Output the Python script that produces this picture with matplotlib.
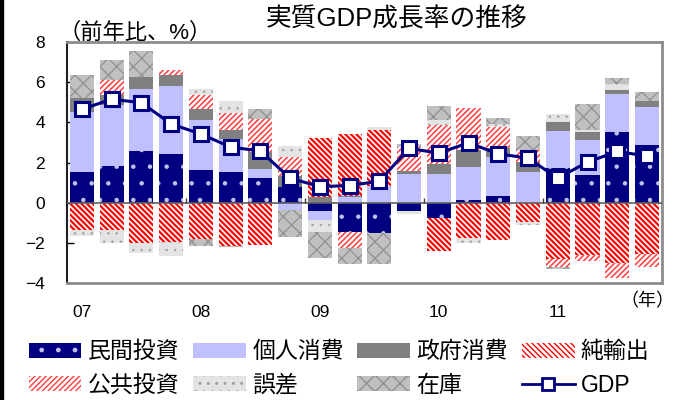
import numpy as np
import matplotlib
matplotlib.use("Agg")
import matplotlib.pyplot as plt
from matplotlib.lines import Line2D

plt.rcParams['font.family'] = ['Liberation Sans', 'Noto Sans CJK JP', 'DejaVu Sans']
plt.rcParams['hatch.linewidth'] = 1.0

# 四半期（2007Q1〜2011Q4）
quarters = ['07Q1', '07Q2', '07Q3', '07Q4', '08Q1', '08Q2', '08Q3', '08Q4',
            '09Q1', '09Q2', '09Q3', '09Q4', '10Q1', '10Q2', '10Q3', '10Q4',
            '11Q1', '11Q2', '11Q3', '11Q4']
year_labels = ['07', '08', '09', '10', '11']

# 寄与度（%ポイント）
private_inv = [1.52, 1.85, 2.55, 2.43, 1.65, 1.52, 1.23, 0.77, -0.43, -1.45,
               -1.53, -0.40, -0.77, 0.13, 0.35, 0.00, 1.72, 1.40, 3.50, 2.85]
consumption = [3.00, 3.00, 3.10, 3.37, 2.45, 1.67, 0.45, -0.35, -0.43, 0.27,
               0.85, 1.43, 1.43, 1.67, 1.92, 1.52, 1.83, 1.70, 1.93, 1.92]
gov_cons = [0.67, 0.50, 0.62, 0.55, 0.55, 0.45, 0.83, 0.58, 0.27, 0.08,
            0.00, 0.13, 0.50, 0.80, 0.45, 0.50, 0.45, 0.42, 0.20, 0.30]
net_exports = [-1.37, -1.35, -2.03, -1.98, -1.82, -2.15, -2.12, 0.00, 2.93, 3.08,
               2.78, 0.00, -1.65, -1.77, -1.85, -0.98, -2.82, -2.62, -2.98, -2.57]
public_inv = [0.00, 0.75, 0.00, 0.25, 0.70, 0.80, 1.67, 0.92, 0.00, -0.83,
              0.00, 1.20, 1.95, 2.12, 1.03, 0.58, -0.38, -0.28, -0.75, -0.63]
error = [-0.27, -0.67, -0.50, -0.68, 0.30, 0.62, 0.00, 0.53, -0.58, 0.00,
         0.12, -0.17, 0.25, -0.22, 0.17, -0.13, 0.43, 0.12, 0.30, 0.00]
inventory = [1.17, 1.00, 1.28, 0.00, -0.33, -0.08, 0.50, -1.38, -1.30, -0.78,
             -1.53, 0.17, 0.70, 0.00, 0.30, 0.70, -0.08, 1.27, 0.30, 0.45]
gdp = [4.65, 5.15, 4.98, 3.92, 3.42, 2.77, 2.57, 1.22, 0.80, 0.85,
       1.07, 2.70, 2.47, 2.98, 2.43, 2.22, 1.22, 2.02, 2.55, 2.32]

# 系列ごとのスタイル: (ラベル, データ, 塗り, ハッチ色, ハッチ, ハッチ線幅)
series = [
    ('民間投資', private_inv, '#000080', '#c0c0e8', '.', 0.8),
    ('個人消費', consumption, '#c0c0ff', '#c0c0ff', None, 1.0),
    ('政府消費', gov_cons, '#808080', '#808080', None, 1.0),
    ('純輸出', net_exports, 'white', '#ff0000', '\\' * 6, 1.6),
    ('公共投資', public_inv, 'white', '#ff3c3c', '/' * 6, 1.1),
    ('誤差', error, '#e4e4e4', '#a0a0a0', '..', 0.5),
    ('在庫', inventory, '#c0c0c0', '#909090', 'xx', 0.9),
]

fig = plt.figure(figsize=(6.74, 4.0), dpi=100)
ax = fig.add_axes([0.0994, 0.2925, 0.8826, 0.6025])

x = np.arange(len(quarters))
pos_bottom = np.zeros(len(x))
neg_bottom = np.zeros(len(x))
handles = {}
for label, vals, face, hcol, hatch, hlw in series:
    v = np.array(vals)
    bottom = np.where(v >= 0, pos_bottom, neg_bottom)
    bars = ax.bar(x, v, 0.81, bottom=bottom, color=face, edgecolor=hcol,
                  linewidth=0, hatch=hatch, label=label, zorder=2)
    for b in bars:
        try:
            b.set_hatch_linewidth(hlw)
        except AttributeError:
            pass
    handles[label] = bars
    pos_bottom += np.where(v > 0, v, 0)
    neg_bottom += np.where(v < 0, v, 0)

ax.plot(x, gdp, color='#000080', lw=2.2, marker='s', markersize=10,
        markerfacecolor='white', markeredgecolor='#000080', markeredgewidth=2.2,
        zorder=4)
handles['GDP'] = Line2D([], [], color='#000080', lw=2, marker='s', markersize=9,
                        markerfacecolor='white', markeredgecolor='#000080',
                        markeredgewidth=2)

ax.axhline(0, color='#606060', lw=1.2, zorder=3)
ax.vlines([3.5, 7.5, 11.5, 15.5], 0, 0.25, color='#404040', lw=1, zorder=3)

ax.set_xlim(-0.5, len(x) - 0.5)
ax.set_ylim(-4, 8)
ax.set_yticks(np.arange(-4, 9, 2))
ax.tick_params(axis='y', direction='in', length=5, width=1, labelsize=12.5, pad=16)
ax.set_xticks(x[::4])
ax.set_xticklabels(year_labels)
ax.tick_params(axis='x', length=0, labelsize=12.5, pad=16)

for s in ['top', 'right', 'bottom']:
    ax.spines[s].set_color('#8c8c8c')
    ax.spines[s].set_linewidth(2)
ax.spines['left'].set_color('#202020')
ax.spines['left'].set_linewidth(1.5)

fig.text(0.588, 0.952, '実質GDP成長率の推移', ha='center', va='center', fontsize=18.5)
fig.text(0.20, 0.917, '（前年比、%）', ha='center', va='center', fontsize=16)
fig.text(0.96, 0.245, '（年）', ha='center', va='center', fontsize=13)

order = ['民間投資', '公共投資', '個人消費', '誤差', '政府消費', '在庫', '純輸出', 'GDP']
fig.legend([handles[k] for k in order], order, ncol=4, loc='lower left',
           bbox_to_anchor=(0.012, -0.043), frameon=False, fontsize=16.5,
           handlelength=2.3, handleheight=0.65, handletextpad=0.28,
           columnspacing=0.6, labelspacing=0.45)

# 左端の黒い縁
fig.patches.append(plt.Rectangle((0, 0), 0.005, 1, transform=fig.transFigure,
                                 color='black', zorder=0))

fig.savefig('out.png', dpi=100)
